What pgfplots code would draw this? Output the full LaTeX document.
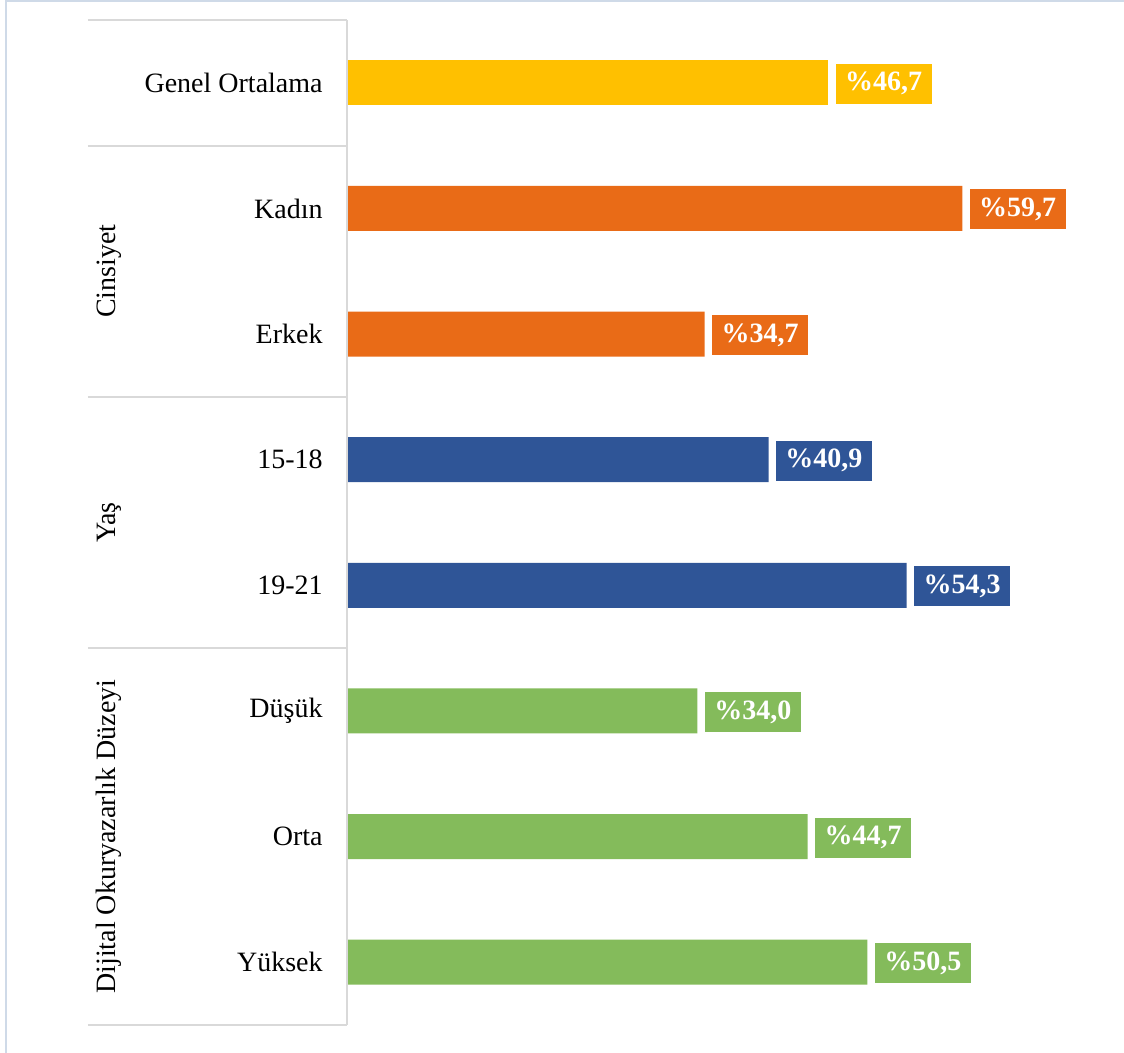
\documentclass[border=0pt]{standalone}
\usepackage{pgfplots}
\pgfplotsset{compat=1.18}
\usepackage{fontspec}
\setmainfont{Liberation Serif}
\definecolor{cyel}{HTML}{FFC000}
\definecolor{corg}{HTML}{E96B17}
\definecolor{cblu}{HTML}{2F5597}
\definecolor{cgrn}{HTML}{84BB5B}
\definecolor{cgrid}{HTML}{D9D9D9}
\definecolor{cbord}{HTML}{CFDAE8}
\begin{document}
\begin{tikzpicture}
\useasboundingbox (-173.5pt,-14pt) rectangle (388.5pt,512.5pt);
\draw[cbord, line width=1.2pt] (-170.5pt,-20pt) -- (-170.5pt,512pt) -- (395pt,512pt);
\begin{axis}[
  at={(0pt,0pt)}, anchor=south west,
  xbar, scale only axis, width=386.5pt, height=502.5pt,
  xmin=0, xmax=75, ymin=-0.5, ymax=7.5, y dir=reverse,
  axis line style={draw=none},
  xtick=\empty,
  ytick={0,1,2,3,4,5,6,7},
  yticklabels={Genel Ortalama,Kadın,Erkek,15-18,19-21,Düşük,Orta,Yüksek},
  major tick length=0pt, ytick style={draw=none},
  yticklabel style={font=\fontsize{14}{16}\selectfont, anchor=east, inner sep=0pt, xshift=-12pt},
  bar width=22.5pt, bar shift=0pt,
  nodes near coords, point meta=explicit symbolic,
  every node near coord/.append style={text=white, font=\fontsize{14}{16}\selectfont\bfseries, anchor=west, xshift=3.5pt, yshift=-0.5pt, inner xsep=4.75pt, inner ysep=0pt, minimum height=20pt},
  clip=false,
]
\addplot[fill=cyel, draw=none, every node near coord/.append style={fill=cyel}] coordinates {(46.7,0) [\%46,7]};
\addplot[fill=corg, draw=none, every node near coord/.append style={fill=corg}] coordinates {(59.7,1) [\%59,7] (34.7,2) [\%34,7]};
\addplot[fill=cblu, draw=none, every node near coord/.append style={fill=cblu}] coordinates {(40.9,3) [\%40,9] (54.3,4) [\%54,3]};
\addplot[fill=cgrn, draw=none, every node near coord/.append style={fill=cgrn}] coordinates {(34.0,5) [\%34,0] (44.7,6) [\%44,7] (50.5,7) [\%50,5]};
\end{axis}
\draw[cgrid, line width=1pt] (0pt,0pt) -- (0pt,502.5pt);
\foreach \yy in {0,188.4,314.1,439.7,502.5} \draw[cgrid, line width=1pt] (-129.5pt,\yy pt) -- (0pt,\yy pt);
\node[rotate=90, font=\fontsize{14}{16}\selectfont] at (-119pt,376.9pt) {Cinsiyet};
\node[rotate=90, font=\fontsize{14}{16}\selectfont] at (-119pt,251.25pt) {Yaş};
\node[rotate=90, font=\fontsize{14}{16}\selectfont] at (-119pt,94.2pt) {Dijital Okuryazarlık Düzeyi};
\end{tikzpicture}
\end{document}
